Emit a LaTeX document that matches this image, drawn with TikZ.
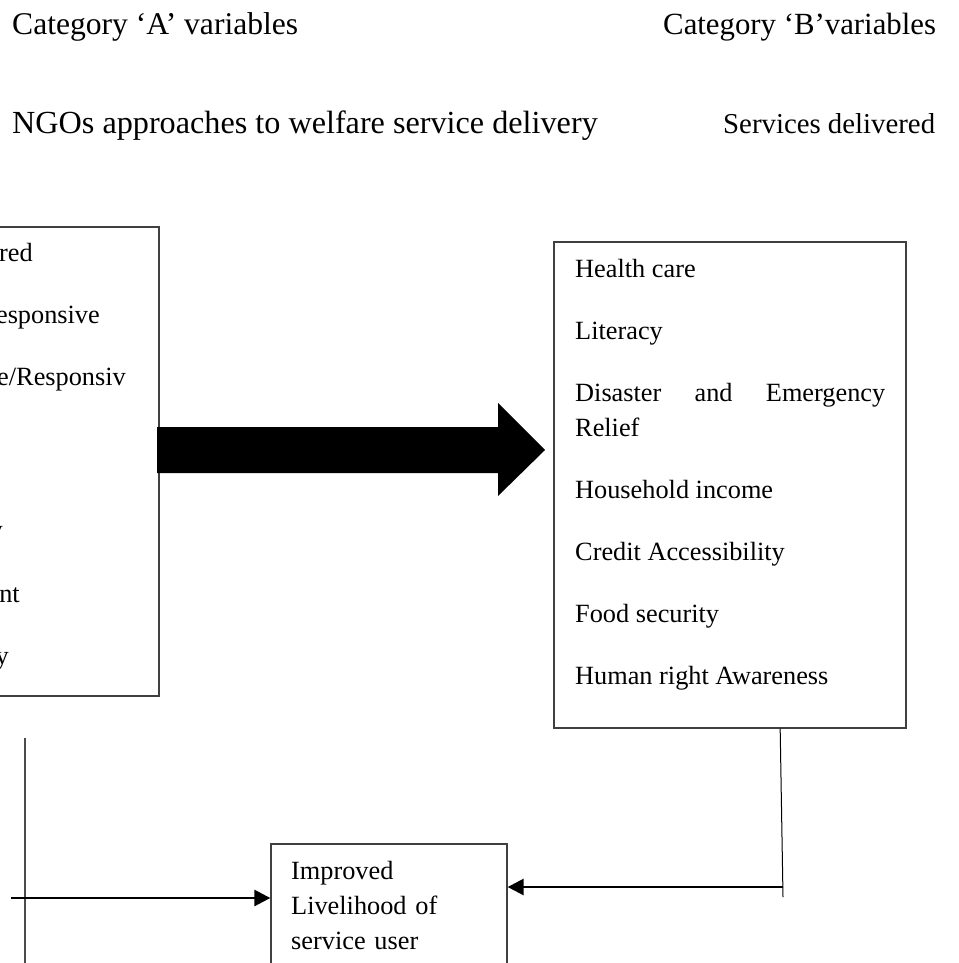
\documentclass[tikz,border=0pt]{standalone}
\usepackage{fontspec}
\setmainfont{Liberation Serif}
\usetikzlibrary{arrows.meta, positioning, calc}
\newcommand{\headfont}{\fontsize{31.6}{38}\selectfont}
\newcommand{\listfont}{\fontsize{26.3}{35}\selectfont\hyphenpenalty=10000\exhyphenpenalty=10000}
\tikzset{
    heading/.style={anchor=base west, inner sep=0pt, font=\headfont},
    framebox/.style={rectangle, draw=black!75, line width=1.3pt, fill=white},
    listtext/.style={anchor=base west, inner sep=0pt, font=\listfont},
    cutitem/.style={anchor=base east, inner sep=0pt, font=\listfont},
    arrow/.style={line width=2.6pt, -{Triangle[length=16pt, width=16pt]}},
    joinline/.style={draw=black!70, line width=1.2pt}
}

\begin{document}
\begin{tikzpicture}[x=1pt, y=-1pt]
    \useasboundingbox (0,0) rectangle (958,963);

    % headings
    \node (catA) [heading] at (12,35) {Category ‘A’ variables};
    \node (catB) [heading, font=\fontsize{30.8}{38}\selectfont] at (663,35) {Category ‘B’variables};
    \node (headA) [heading, font=\fontsize{32.2}{38}\selectfont] at (12,134) {NGOs approaches to welfare service delivery};
    \node (headB) [heading, font=\fontsize{28.8}{38}\selectfont] at (723,134) {Services delivered};

    % boxes
    \node (approaches) [framebox, minimum width=219pt, minimum height=469pt] at (49.5,461.5) {};
    \node (services) [framebox, minimum width=352pt, minimum height=486pt] at (730,485) {};
    \node (outcome) [framebox, minimum width=236pt, minimum height=160pt] at (389,924) {};

    % what is left of the approaches list
    \node (appr1) [cutitem] at (33,261) {red};
    \node (appr2) [cutitem] at (100,323) {esponsive};
    \node (appr3) [cutitem] at (126,385) {e/Responsiv};
    \node (appr4) [cutitem] at (3,538) {y};
    \node (appr5) [cutitem] at (20,602) {nt};
    \node (appr6) [cutitem] at (9,664) {y};

    \node (servlist) [listtext, text width=310pt, align=justify] at (575,277)
        {Health care\\[27pt]Literacy\\[27pt]Disaster and Emergency Relief\\[27pt]Household income\\[27pt]Credit Accessibility\\[27pt]Food security\\[27pt]Human right Awareness};
    \node (outtext) [listtext, text width=200pt, align=left] at (291,879)
        {Improved Livelihood of service user};

    % big arrow
    \coordinate (fatstart) at (157,450);
    \coordinate (fattip) at (545,450);
    \fill (fatstart) ++(0,-23) -- ++(341,0) -- ++(0,-24) -- (fattip) -- ++(-47,46) -- ++(0,-23) -- ++(-341,0) -- cycle;

    % links to the outcome
    \coordinate (lefttop) at (25,738);
    \coordinate (leftbottom) at (25,990);
    \coordinate (lefttail) at (11,898);
    \draw [joinline] (lefttop) -- (leftbottom);
    \draw [arrow] (lefttail) -- (lefttail -| outcome.west);

    \coordinate (rightdrop) at ($(services.south west)!0.642!(services.south east)$);
    \coordinate (rightfoot) at (783,897);
    \coordinate (rightturn) at (783,887);
    \draw [line width=1pt] (rightdrop) -- (rightfoot);
    \draw [arrow] (rightturn) -- (rightturn -| outcome.east);

\end{tikzpicture}
\end{document}
